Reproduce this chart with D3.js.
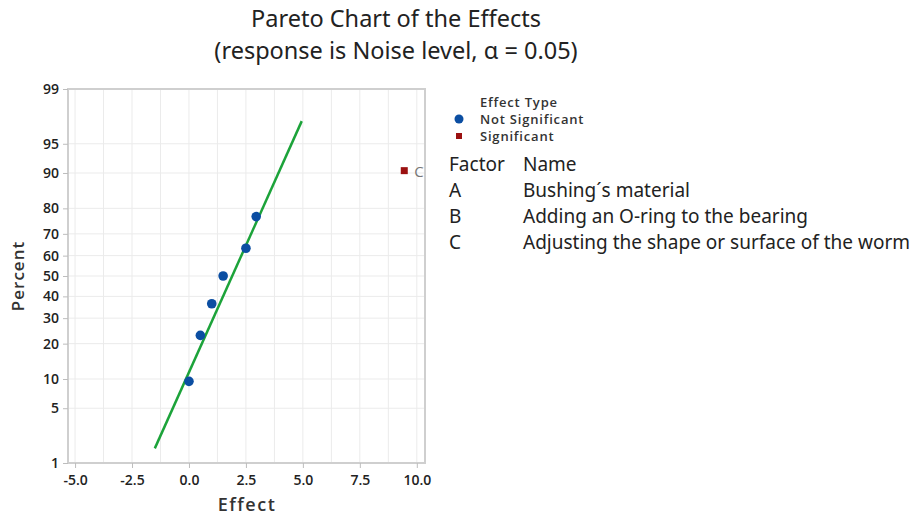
<html>
<head>
<meta charset="utf-8">
<script src="https://d3js.org/d3.v7.min.js"></script>
<style>
  body{margin:0;background:#fff;}
  svg{display:block;}
</style>
</head>
<body>
<script>
// effect estimates and their normal-plot percents
const effects = [0.0, 0.5, 1.0, 1.5, 2.5, 2.95, 9.45];
const percents = [9.5, 23, 36.5, 50, 63.5, 77, 90.5];
const effectType = ["Not Significant","Not Significant","Not Significant","Not Significant","Not Significant","Not Significant","Significant"];
const pointLabels = ["","","","","","","C"];

// fitted line end points
const lineEffects = [-1.5, 4.95];
const linePercents = [1.6, 97.3];

const xTicks = [-5, -2.5, 0, 2.5, 5, 7.5, 10];
const xGrid = [-3.75, -1.25, 1.25, 3.75, 6.25, 8.75];
const yTicks = [1, 5, 10, 20, 30, 40, 50, 60, 70, 80, 90, 95, 99];

const factors = ["A", "B", "C"];
const factorNames = ["Bushing\u00b4s material", "Adding an O-ring to the bearing", "Adjusting the shape or surface of the worm"];

const W = 911, H = 515;
const pLeft = 68, pRight = 425, pTop = 89, pBottom = 463;

const svg = d3.select('body').append('svg').attr('width', W).attr('height', H);

// inverse normal cdf (Acklam)
function probit(p){
    const a=[-3.969683028665376e+01,2.209460984245205e+02,-2.759285104469687e+02,1.383577518672690e+02,-3.066479806614716e+01,2.506628277459239e+00];
    const b=[-5.447609879822406e+01,1.615858368580409e+02,-1.556989798598866e+02,6.680131188771972e+01,-1.328068155288572e+01];
    const c=[-7.784894002430293e-03,-3.223964580411365e-01,-2.400758277161838e+00,-2.549732539343734e+00,4.374664141464968e+00,2.938163982698783e+00];
    const d=[7.784695709041462e-03,3.224671290700398e-01,2.445134137142996e+00,3.754408661907416e+00];
    const pl=0.02425;
    let q,r;
    if(p<pl){q=Math.sqrt(-2*Math.log(p));return (((((c[0]*q+c[1])*q+c[2])*q+c[3])*q+c[4])*q+c[5])/((((d[0]*q+d[1])*q+d[2])*q+d[3])*q+1);}
    if(p>1-pl){q=Math.sqrt(-2*Math.log(1-p));return -(((((c[0]*q+c[1])*q+c[2])*q+c[3])*q+c[4])*q+c[5])/((((d[0]*q+d[1])*q+d[2])*q+d[3])*q+1);}
    q=p-0.5;r=q*q;
    return (((((a[0]*r+a[1])*r+a[2])*r+a[3])*r+a[4])*r+a[5])*q/(((((b[0]*r+b[1])*r+b[2])*r+b[3])*r+b[4])*r+1);
}

const x = d3.scaleLinear().domain([-5.31, 10.36]).range([pLeft, pRight]);
const zScale = d3.scaleLinear().domain([probit(0.01), probit(0.99)]).range([pBottom, pTop]);
const y = p => zScale(probit(p/100));

// title
svg.append('text').attr('x', 396).attr('y', 27).attr('text-anchor','middle')
    .style('font-family','"Noto Sans", sans-serif').style('font-size','23.5px').attr('fill','#222')
    .text('Pareto Chart of the Effects');
svg.append('text').attr('x', 396).attr('y', 59).attr('text-anchor','middle')
    .style('font-family','"Noto Sans", sans-serif').style('font-size','23.5px').attr('fill','#222')
    .text('(response is Noise level, \u03b1 = 0.05)');

// grid
const g = svg.append('g');
g.selectAll('.vg').data(xTicks.concat(xGrid)).enter().append('line')
    .attr('x1', d=>x(d)).attr('x2', d=>x(d)).attr('y1', pTop).attr('y2', pBottom)
    .attr('stroke','#ebebeb').attr('stroke-width',1);
g.selectAll('.hg').data(yTicks).enter().append('line')
    .attr('x1', pLeft).attr('x2', pRight).attr('y1', d=>y(d)).attr('y2', d=>y(d))
    .attr('stroke','#ebebeb').attr('stroke-width',1);

// frame
g.append('rect').attr('x', pLeft).attr('y', pTop).attr('width', pRight-pLeft).attr('height', pBottom-pTop)
    .attr('fill','none').attr('stroke','#cfcfcf').attr('stroke-width',2);

// axes
const xAxis = svg.append('g').attr('transform', `translate(0,${pBottom})`)
    .call(d3.axisBottom(x).tickValues(xTicks).tickFormat(d=>d3.format('.1f')(d).replace('\u2212','-')).tickSize(5).tickSizeOuter(0));
const yAxis = svg.append('g').attr('transform', `translate(${pLeft},0)`)
    .call(d3.axisLeft(zScale).tickValues(yTicks.map(p=>probit(p/100))).tickFormat((d,i)=>yTicks[i]).tickSize(5).tickSizeOuter(0));
[xAxis, yAxis].forEach(a=>{
    a.select('.domain').remove();
    a.selectAll('line').attr('stroke','#bdbdbd');
    a.selectAll('text').style('font-family','"Open Sans", sans-serif').style('font-size','14px')
        .style('font-weight','600').attr('fill','#222');
});
xAxis.selectAll('text').attr('dy','1.0em');
yAxis.selectAll('text').attr('dx','-1px');

svg.append('text').attr('x', 247).attr('y', 511).attr('text-anchor','middle')
    .style('font-family','"Open Sans", sans-serif').style('font-size','18px').style('font-weight','600')
    .style('letter-spacing','1.5px').attr('fill','#333').text('Effect');
svg.append('text').attr('transform','translate(24,276) rotate(-90)').attr('text-anchor','middle')
    .style('font-family','"Open Sans", sans-serif').style('font-size','17px').style('font-weight','600')
    .style('letter-spacing','1px').attr('fill','#333').text('Percent');

// fitted line
const lineData = lineEffects.map((e,i)=>({e:e, p:linePercents[i]}));
svg.append('path').datum(lineData)
    .attr('d', d3.line().x(d=>x(d.e)).y(d=>y(d.p)))
    .attr('stroke','#1ca33a').attr('stroke-width',2.5).attr('fill','none');

// points
const pts = effects.map((e,i)=>({e:e, p:percents[i], t:effectType[i], l:pointLabels[i]}));
svg.selectAll('.ns').data(pts.filter(d=>d.t==='Not Significant')).enter().append('circle')
    .attr('cx', d=>x(d.e)).attr('cy', d=>y(d.p)).attr('r', 4.8).attr('fill','#0b4ea2');
svg.selectAll('.sg').data(pts.filter(d=>d.t==='Significant')).enter().append('rect')
    .attr('x', d=>x(d.e)-3.5).attr('y', d=>y(d.p)-3.5).attr('width',7).attr('height',7).attr('fill','#9b1111');
svg.selectAll('.pl').data(pts.filter(d=>d.l)).enter().append('text')
    .attr('x', d=>x(d.e)+10).attr('y', d=>y(d.p)+6)
    .style('font-family','"Open Sans", sans-serif').style('font-size','15px').attr('fill','#777').text(d=>d.l);

// legend
const leg = svg.append('g').style('font-family','"Open Sans", sans-serif').style('font-weight','600')
    .style('font-size','13px').style('letter-spacing','0.8px').attr('fill','#333');
leg.append('text').attr('x', 480).attr('y', 107).text('Effect Type');
leg.append('circle').attr('cx', 459).attr('cy', 119).attr('r', 4.5).attr('fill','#0b4ea2');
leg.append('text').attr('x', 480).attr('y', 124).text('Not Significant');
leg.append('rect').attr('x', 456).attr('y', 133).attr('width', 6).attr('height', 6).attr('fill','#9b1111');
leg.append('text').attr('x', 480).attr('y', 141).text('Significant');

// factor table
const tbl = svg.append('g').style('font-family','"Noto Sans", sans-serif').style('font-size','19px').attr('fill','#222');
tbl.append('text').attr('x', 449).attr('y', 171).text('Factor');
tbl.append('text').attr('x', 523).attr('y', 171).text('Name');
tbl.selectAll('.fa').data(factors).enter().append('text')
    .attr('x', 449).attr('y', (d,i)=>197 + i*26).text(d=>d);
tbl.selectAll('.fn').data(factorNames).enter().append('text')
    .attr('x', 523).attr('y', (d,i)=>197 + i*26).text(d=>d);
</script>
</body>
</html>
